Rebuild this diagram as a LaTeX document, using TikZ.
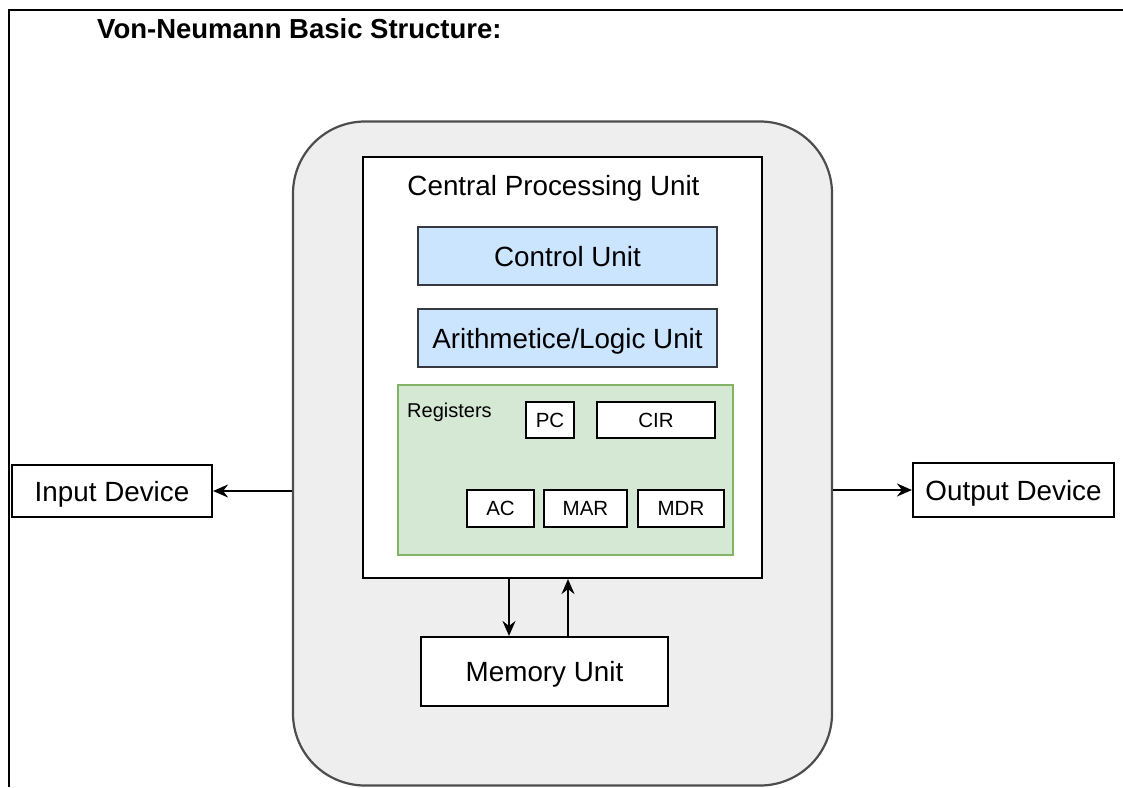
\documentclass[tikz,border=0pt]{standalone}
\usepackage{fontspec}
\setmainfont{Liberation Sans}
\usetikzlibrary{arrows.meta}

\definecolor{shellfill}{HTML}{EEEEEE}
\definecolor{shellline}{HTML}{4D4D4D}
\definecolor{unitblue}{HTML}{CCE5FF}
\definecolor{unitline}{HTML}{36393D}
\definecolor{regfill}{HTML}{D5E8D4}
\definecolor{regline}{HTML}{82B366}

\tikzset{
  bigtext/.style={font=\fontsize{27.8}{33}\selectfont, text height=20pt, text depth=0pt},
  smalltext/.style={font=\fontsize{20.5}{24}\selectfont, text height=14.7pt, text depth=0pt},
  plainbox/.style={draw=black, line width=2.1pt, fill=white, inner sep=0pt},
  unitbox/.style={draw=unitline, line width=2.1pt, fill=unitblue, inner sep=0pt, bigtext},
  regbox/.style={plainbox, smalltext},
  iobox/.style={plainbox, bigtext},
  arr/.style={-{Stealth[length=15pt 0,width=13pt 0,inset=5pt]}, line width=2pt, draw=black},
}

\begin{document}
\begin{tikzpicture}[x=1pt, y=-1pt]
  \useasboundingbox (0,0) rectangle (1123,787);

  % page frame (top and left rules)
  \draw[line width=2.8pt, black] (1123,10) -- (9,10) -- (9,787);

  % title
  \node[anchor=base west, font=\fontsize{27.5}{33}\selectfont\bfseries, inner sep=0pt]
    (title) at (97,38.5) {Von-Neumann Basic Structure:};

  % computer shell
  \node[draw=shellline, fill=shellfill, line width=2.2pt, rounded corners=72pt,
        minimum width=539pt, minimum height=664pt, inner sep=0pt]
    (shell) at (562.5,453.5) {};

  % CPU
  \node[plainbox, minimum width=399pt, minimum height=421pt] (cpu) at (562.5,367.5) {};
  \node[anchor=base, inner sep=0pt, font=\fontsize{27.8}{33}\selectfont]
    (cputitle) at (553.5,195) {Central Processing Unit};

  \node[unitbox, minimum width=299pt, minimum height=58pt] (cu) at (567.5,256) {Control Unit};
  \node[unitbox, minimum width=299pt, minimum height=58pt] (alu) at (567.5,338) {Arithmetice/Logic Unit};

  % registers
  \node[draw=regline, fill=regfill, line width=1.8pt, inner sep=0pt,
        minimum width=335pt, minimum height=170pt] (regs) at (565.5,470) {};
  \node[anchor=base west, inner sep=0pt, font=\fontsize{20}{24}\selectfont]
    (regtitle) at (407,417) {Registers};

  \node[regbox, minimum width=48pt,  minimum height=36pt] (pc)  at (550,420)   {PC};
  \node[regbox, minimum width=118pt, minimum height=36pt] (cir) at (656,420)   {CIR};
  \node[regbox, minimum width=67pt,  minimum height=37pt] (ac)  at (500.5,508.5) {AC};
  \node[regbox, minimum width=83pt,  minimum height=37pt] (mar) at (585.5,508.5) {MAR};
  \node[regbox, minimum width=86pt,  minimum height=37pt] (mdr) at (681,508.5) {MDR};

  % memory
  \node[iobox, minimum width=247pt, minimum height=69pt] (mem) at (544.5,671.5) {Memory Unit};

  % devices
  \node[iobox, minimum width=200pt, minimum height=52pt] (inp) at (112,491) {Input Device};
  \node[iobox, minimum width=201pt, minimum height=54pt] (outp) at (1013.5,490) {Output Device};

  % connectors
  \draw[arr] (shell.west |- inp.east) -- (inp.east);
  \draw[arr] (shell.east |- outp.west) -- (outp.west);
  \draw[arr] ([xshift=-35.5pt]mem.north |- cpu.south) -- ([xshift=-35.5pt]mem.north);
  \draw[arr] ([xshift=23.5pt]mem.north) -- ([xshift=23.5pt]mem.north |- cpu.south);
\end{tikzpicture}
\end{document}
